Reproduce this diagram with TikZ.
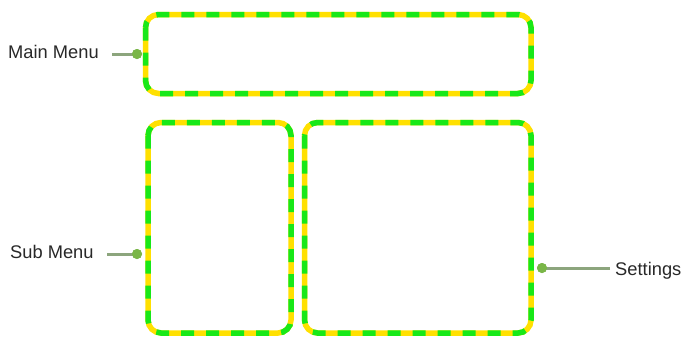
\documentclass[tikz,border=0pt]{standalone}
\usepackage{fontspec}
\setmainfont{Liberation Sans}
\definecolor{dgreen}{RGB}{24,232,24}
\definecolor{dyellow}{RGB}{255,224,0}
\definecolor{dotc}{RGB}{122,182,72}
\definecolor{linec}{RGB}{140,165,125}
\definecolor{txt}{RGB}{40,40,40}
\begin{document}
\begin{tikzpicture}[x=1pt,y=-1pt,
  panel/.style={draw=dgreen, line width=5.5pt, dash pattern=on 13pt off 12pt,
    rounded corners=13pt,
    preaction={draw=dyellow, line width=5.5pt, solid}},
  lbl/.style={font=\fontsize{18.3}{20}\selectfont, text=txt, inner sep=0pt, anchor=base west},
  dotn/.style={circle, fill=dotc, minimum size=10pt, inner sep=0pt},
  conn/.style={draw=linec, line width=3pt}]
\useasboundingbox (0,0) rectangle (684,359);
\fill[white] (0,0) rectangle (684,359);
% panels
\draw[panel] (145.5,14.5) rectangle (531,93.5);
\draw[panel] (148,122.5) rectangle (291,333);
\draw[panel] (304.5,122.5) rectangle (531,333);
% labels
\node[lbl] (mm) at (8,58) {Main Menu};
\node[lbl] (sm) at (10,258) {Sub Menu};
\node[lbl] (st) at (615,275) {Settings};
% connector ends
\coordinate (mmS) at (112,54);
\coordinate (smS) at (107,254);
\coordinate (stS) at (610,268);
\node[dotn] (mmD) at (137,54) {};
\node[dotn] (smD) at (137,254) {};
\node[dotn] (stD) at (542,268) {};
\draw[conn] (mmS) -- (mmD.center);
\draw[conn] (smS) -- (smD.center);
\draw[conn] (stS) -- (stD.center);
\node[dotn] at (mmD) {};
\node[dotn] at (smD) {};
\node[dotn] at (stD) {};
\end{tikzpicture}
\end{document}
